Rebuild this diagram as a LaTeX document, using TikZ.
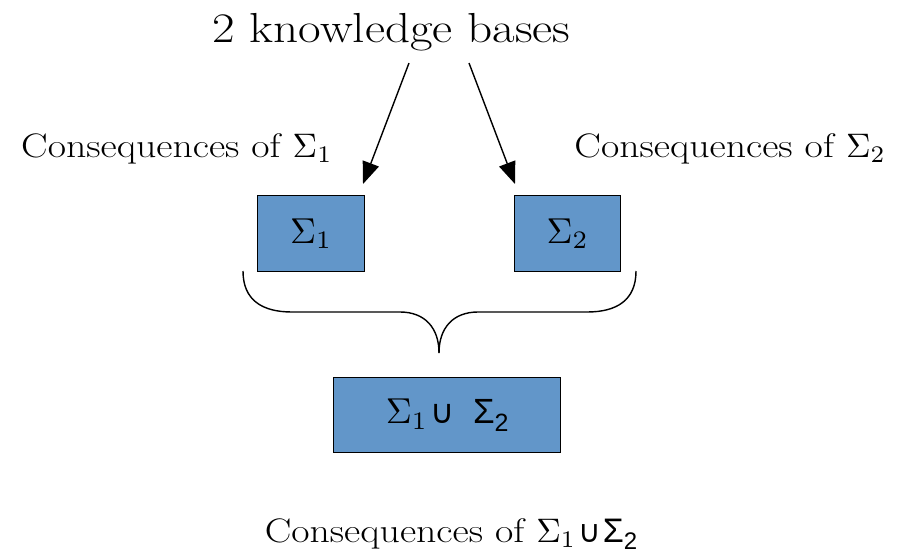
\documentclass[tikz,border=0pt]{standalone}
\usepackage{fontspec}
\setmainfont{Latin Modern Roman}[FakeStretch=1.17]
\newfontfamily\arialf{Liberation Sans}
\newfontfamily\dejavu{DejaVu Sans}
\usetikzlibrary{arrows.meta}
\newcommand{\sgm}[2]{\scalebox{#2}{\fontsize{10}{12}\selectfont$\Sigma_{#1}$}}
\definecolor{boxblue}{RGB}{98,150,201}
\tikzset{
  kb/.style={draw=black, line width=1.4pt, fill=boxblue, inner sep=0pt, anchor=north west},
  lbl/.style={inner sep=0pt, font=\fontsize{34}{38}\selectfont},
  arr/.style={line width=1.4pt, -{Triangle[length=22pt,width=17pt]}},
  brace/.style={line width=1.4pt}
}
\begin{document}
\begin{tikzpicture}[x=1pt,y=-1pt]
\useasboundingbox (0,0) rectangle (899,555);
\node[inner sep=0pt, anchor=base, font=\fontsize{42}{46}\selectfont] (title) at (391.5,42) {2 knowledge bases};
\node[lbl, anchor=base west] (c1) at (21,157) {Consequences of \sgm{1}{3.4}};
\node[lbl, anchor=base east] (c2) at (886,157) {Consequences of \sgm{2}{3.4}};
\node[kb, minimum width=107pt, minimum height=76pt] (s1) at (257,195) {\sgm{1}{3.6}};
\node[kb, minimum width=106pt, minimum height=76pt] (s2) at (514,195) {\sgm{2}{3.6}};
\node[kb, minimum width=227pt, minimum height=75pt] (u) at (333,377) {\sgm{1}{3.6}\hspace{3pt}{\dejavu\fontsize{33}{36}\selectfont ∪}\hspace{18pt}{\arialf\fontsize{35}{40}\selectfont Σ\raisebox{-0.22em}{\fontsize{25}{28}\selectfont 2}}};
\node[lbl, anchor=base] (c3) at (451,542) {Consequences of \sgm{1}{3.4}\hspace{2pt}{\dejavu\fontsize{31}{34}\selectfont ∪}\hspace{2pt}{\arialf Σ\raisebox{-0.22em}{\fontsize{24}{26}\selectfont 2}}};
\coordinate (a1) at (409,63);
\coordinate (a2) at (469,63);
\coordinate (t1) at (363,184);
\coordinate (t2) at (515,184);
\draw[arr] (a1) -- (t1);
\draw[arr] (a2) -- (t2);
\coordinate (tip) at (439,353);
\draw[brace] (243,271) .. controls (243,300) and (262,312) .. (292,312) -- (400,312) .. controls (425,312) and (439,328) .. (tip);
\draw[brace] (636,271) .. controls (636,300) and (617,312) .. (587,312) -- (478,312) .. controls (453,312) and (439,328) .. (tip);
\end{tikzpicture}
\end{document}
